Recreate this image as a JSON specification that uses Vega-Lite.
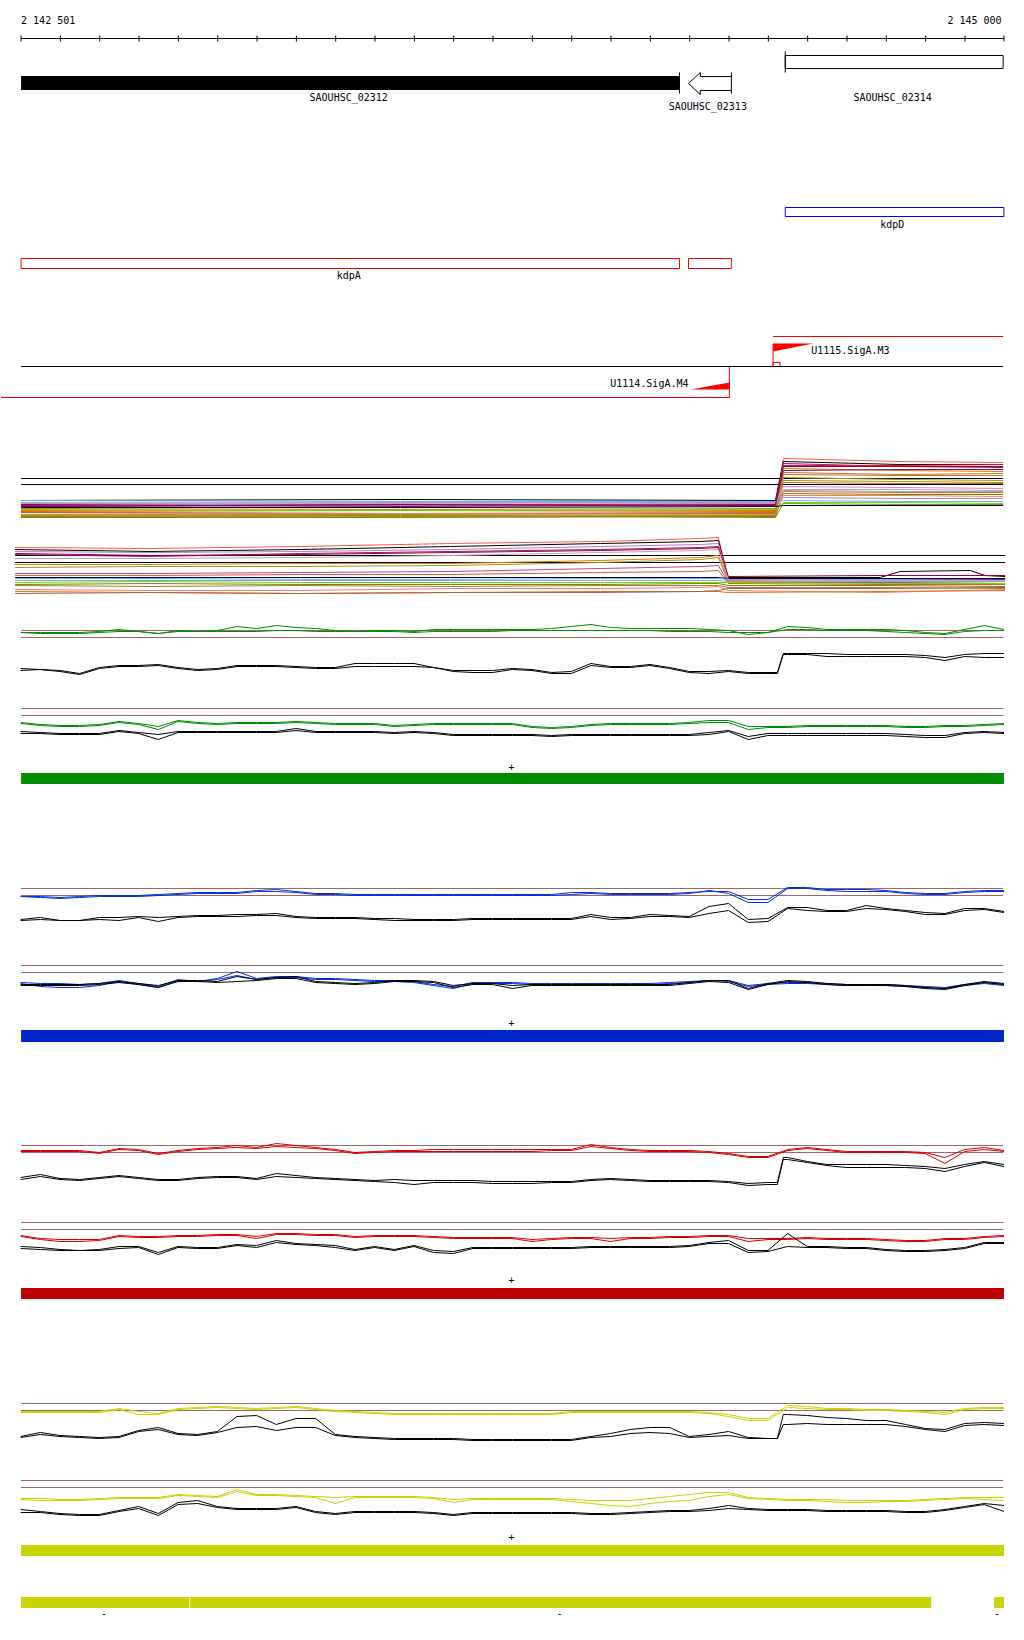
{
"$schema": "https://vega.github.io/schema/vega-lite/v6.json",
"width": 1024, "height": 1640,
"autosize": {"type": "fit", "contains": "padding"},
"padding": 0,
"background": "white",
"config": {"view": {"stroke": null}},
"datasets": {
"bars": [
{"id":"gene","x":2142501,"x2":2144175,"y":75.5,"y2":89.5},
{"id":"green","x":2142501,"x2":2145000,"y":772.5,"y2":783.5},
{"id":"blue","x":2142501,"x2":2145000,"y":1029.5,"y2":1041.5},
{"id":"red","x":2142501,"x2":2145000,"y":1287.5,"y2":1298.5},
{"id":"yellow","x":2142501,"x2":2145000,"y":1544.5,"y2":1555.5},
{"id":"yellow","x":2142501,"x2":2142929,"y":1596.5,"y2":1607.5},
{"id":"yellow","x":2142931,"x2":2144815,"y":1596.5,"y2":1607.5},
{"id":"yellow","x":2144975,"x2":2145000,"y":1596.5,"y2":1607.5}
],
"boxes": [
{"id":"black","x":2144444,"x2":2144998,"y":55,"y2":68},
{"id":"blue","x":2144444,"x2":2145000,"y":207,"y2":216},
{"id":"red","x":2142501,"x2":2144175,"y":258,"y2":268},
{"id":"red","x":2144198,"x2":2144307,"y":258,"y2":268},
{"id":"red","x":2144413,"x2":2144431,"y":362,"y2":366}
],
"tri": [
{"id":"t1","x":2144413,"y":343,"y2":351},
{"id":"t1","x":2144515,"y":343,"y2":343},
{"id":"t2","x":2144203,"y":389,"y2":389},
{"id":"t2","x":2144302,"y":382,"y2":389}
],
"arrow": [
{"o":1,"x":2144307,"y":76},{"o":2,"x":2144228,"y":76},{"o":3,"x":2144228,"y":72},{"o":4,"x":2144198,"y":83},{"o":5,"x":2144228,"y":94},{"o":6,"x":2144228,"y":90},{"o":7,"x":2144307,"y":90}
],
"rules": [
{"k":"black","x":2142501,"x2":2145000,"y":38,"y2":38},
{"k":"black","x":2142501,"x2":2142501,"y":35,"y2":41},
{"k":"black","x":2142601,"x2":2142601,"y":35,"y2":41},
{"k":"black","x":2142701,"x2":2142701,"y":35,"y2":41},
{"k":"black","x":2142801,"x2":2142801,"y":35,"y2":41},
{"k":"black","x":2142901,"x2":2142901,"y":35,"y2":41},
{"k":"black","x":2143001,"x2":2143001,"y":35,"y2":41},
{"k":"black","x":2143101,"x2":2143101,"y":35,"y2":41},
{"k":"black","x":2143201,"x2":2143201,"y":35,"y2":41},
{"k":"black","x":2143301,"x2":2143301,"y":35,"y2":41},
{"k":"black","x":2143401,"x2":2143401,"y":35,"y2":41},
{"k":"black","x":2143501,"x2":2143501,"y":35,"y2":41},
{"k":"black","x":2143601,"x2":2143601,"y":35,"y2":41},
{"k":"black","x":2143701,"x2":2143701,"y":35,"y2":41},
{"k":"black","x":2143801,"x2":2143801,"y":35,"y2":41},
{"k":"black","x":2143901,"x2":2143901,"y":35,"y2":41},
{"k":"black","x":2144001,"x2":2144001,"y":35,"y2":41},
{"k":"black","x":2144101,"x2":2144101,"y":35,"y2":41},
{"k":"black","x":2144201,"x2":2144201,"y":35,"y2":41},
{"k":"black","x":2144301,"x2":2144301,"y":35,"y2":41},
{"k":"black","x":2144401,"x2":2144401,"y":35,"y2":41},
{"k":"black","x":2144501,"x2":2144501,"y":35,"y2":41},
{"k":"black","x":2144601,"x2":2144601,"y":35,"y2":41},
{"k":"black","x":2144701,"x2":2144701,"y":35,"y2":41},
{"k":"black","x":2144801,"x2":2144801,"y":35,"y2":41},
{"k":"black","x":2144901,"x2":2144901,"y":35,"y2":41},
{"k":"black","x":2145000,"x2":2145000,"y":35,"y2":41},
{"k":"black","x":2144175,"x2":2144175,"y":72,"y2":93},
{"k":"black","x":2144307,"x2":2144307,"y":72,"y2":93},
{"k":"black","x":2144444,"x2":2144444,"y":51,"y2":72},
{"k":"red","x":2144413,"x2":2144998,"y":336,"y2":336},
{"k":"red","x":2144413,"x2":2144413,"y":343,"y2":366},
{"k":"black","x":2142501,"x2":2144998,"y":366,"y2":366},
{"k":"red","x":2144302,"x2":2144302,"y":366,"y2":397},
{"k":"red","x":2142450,"x2":2144302,"y":397,"y2":397},
{"k":"black","x":2142501,"x2":2144998,"y":478,"y2":478},
{"k":"black","x":2142501,"x2":2144998,"y":484,"y2":484},
{"k":"black","x":2142486,"x2":2145003,"y":555,"y2":555},
{"k":"black","x":2142486,"x2":2145003,"y":562,"y2":562},
{"k":"brown","x":2142501,"x2":2144998,"y":630,"y2":630},
{"k":"brown","x":2142501,"x2":2144998,"y":637,"y2":637},
{"k":"brown","x":2142501,"x2":2144998,"y":708,"y2":708},
{"k":"brown","x":2142501,"x2":2144998,"y":715,"y2":715},
{"k":"brown","x":2142501,"x2":2144998,"y":888,"y2":888},
{"k":"brown","x":2142501,"x2":2144998,"y":895,"y2":895},
{"k":"brown","x":2142501,"x2":2144998,"y":965,"y2":965},
{"k":"brown","x":2142501,"x2":2144998,"y":972,"y2":972},
{"k":"brown","x":2142501,"x2":2144998,"y":1145,"y2":1145},
{"k":"brown","x":2142501,"x2":2144998,"y":1152,"y2":1152},
{"k":"brown","x":2142501,"x2":2144998,"y":1222,"y2":1222},
{"k":"brown","x":2142501,"x2":2144998,"y":1229,"y2":1229},
{"k":"brown","x":2142501,"x2":2144998,"y":1403,"y2":1403},
{"k":"brown","x":2142501,"x2":2144998,"y":1410,"y2":1410},
{"k":"brown","x":2142501,"x2":2144998,"y":1480,"y2":1480},
{"k":"brown","x":2142501,"x2":2144998,"y":1487,"y2":1487}
],
"sig": [
{"x":2142500,"g1":632,"g2":632,"g3":668,"g4":670,"g5":722,"g6":723,"g7":731,"g8":733,"b1":896,"b2":896,"b3":919,"b4":920,"b5":982,"b6":983,"b7":984,"b8":985,"r1":1150,"r2":1151,"r3":1177,"r4":1179,"r5":1235,"r6":1236,"r7":1246,"r8":1248,"y1":1411,"y2":1412,"y3":1436,"y4":1437,"y5":1498,"y6":1499,"y7":1509,"y8":1512},
{"x":2142550,"g1":632,"g2":633,"g3":669,"g4":669,"g5":724,"g6":725,"g7":732,"g8":733,"b1":896,"b2":897,"b3":917,"b4":919,"b5":983,"b6":986,"b7":984,"b8":985,"r1":1150,"r2":1151,"r3":1174,"r4":1176,"r5":1238,"r6":1239,"r7":1247,"r8":1249,"y1":1411,"y2":1412,"y3":1432,"y4":1434,"y5":1498,"y6":1500,"y7":1511,"y8":1512},
{"x":2142600,"g1":632,"g2":633,"g3":670,"g4":671,"g5":725,"g6":726,"g7":733,"g8":734,"b1":897,"b2":898,"b3":920,"b4":920,"b5":983,"b6":987,"b7":984,"b8":985,"r1":1150,"r2":1151,"r3":1178,"r4":1179,"r5":1239,"r6":1241,"r7":1249,"r8":1250,"y1":1411,"y2":1412,"y3":1435,"y4":1436,"y5":1499,"y6":1500,"y7":1513,"y8":1514},
{"x":2142650,"g1":632,"g2":633,"g3":673,"g4":674,"g5":725,"g6":726,"g7":733,"g8":734,"b1":896,"b2":897,"b3":920,"b4":920,"b5":984,"b6":987,"b7":984,"b8":985,"r1":1150,"r2":1151,"r3":1179,"r4":1180,"r5":1239,"r6":1241,"r7":1250,"r8":1250,"y1":1411,"y2":1412,"y3":1436,"y4":1437,"y5":1499,"y6":1500,"y7":1514,"y8":1515},
{"x":2142700,"g1":631,"g2":632,"g3":667,"g4":668,"g5":724,"g6":725,"g7":733,"g8":734,"b1":895,"b2":896,"b3":917,"b4":919,"b5":983,"b6":985,"b7":983,"b8":984,"r1":1152,"r2":1153,"r3":1177,"r4":1178,"r5":1239,"r6":1240,"r7":1249,"r8":1250,"y1":1411,"y2":1412,"y3":1437,"y4":1438,"y5":1498,"y6":1499,"y7":1514,"y8":1515},
{"x":2142750,"g1":629,"g2":631,"g3":665,"g4":666,"g5":721,"g6":722,"g7":730,"g8":731,"b1":895,"b2":896,"b3":917,"b4":920,"b5":980,"b6":981,"b7":981,"b8":982,"r1":1148,"r2":1149,"r3":1175,"r4":1176,"r5":1235,"r6":1236,"r7":1246,"r8":1248,"y1":1408,"y2":1409,"y3":1436,"y4":1437,"y5":1497,"y6":1498,"y7":1510,"y8":1511},
{"x":2142800,"g1":631,"g2":631,"g3":665,"g4":666,"g5":723,"g6":724,"g7":732,"g8":733,"b1":895,"b2":896,"b3":916,"b4":917,"b5":983,"b6":984,"b7":983,"b8":984,"r1":1149,"r2":1150,"r3":1177,"r4":1178,"r5":1236,"r6":1237,"r7":1246,"r8":1247,"y1":1411,"y2":1414,"y3":1430,"y4":1431,"y5":1497,"y6":1498,"y7":1506,"y8":1508},
{"x":2142850,"g1":633,"g2":633,"g3":664,"g4":665,"g5":726,"g6":729,"g7":734,"g8":739,"b1":894,"b2":895,"b3":917,"b4":921,"b5":986,"b6":987,"b7":985,"b8":987,"r1":1153,"r2":1154,"r3":1179,"r4":1180,"r5":1236,"r6":1237,"r7":1252,"r8":1254,"y1":1413,"y2":1414,"y3":1427,"y4":1429,"y5":1497,"y6":1498,"y7":1513,"y8":1515},
{"x":2142900,"g1":630,"g2":631,"g3":667,"g4":668,"g5":720,"g6":721,"g7":731,"g8":732,"b1":893,"b2":894,"b3":916,"b4":917,"b5":979,"b6":980,"b7":980,"b8":981,"r1":1150,"r2":1151,"r3":1179,"r4":1180,"r5":1235,"r6":1236,"r7":1246,"r8":1247,"y1":1408,"y2":1409,"y3":1433,"y4":1434,"y5":1494,"y6":1495,"y7":1502,"y8":1504},
{"x":2142950,"g1":631,"g2":631,"g3":669,"g4":670,"g5":722,"g6":723,"g7":731,"g8":732,"b1":892,"b2":893,"b3":915,"b4":916,"b5":981,"b6":981,"b7":980,"b8":981,"r1":1148,"r2":1149,"r3":1177,"r4":1178,"r5":1235,"r6":1236,"r7":1247,"r8":1248,"y1":1407,"y2":1408,"y3":1434,"y4":1435,"y5":1495,"y6":1496,"y7":1500,"y8":1503},
{"x":2143000,"g1":630,"g2":631,"g3":668,"g4":669,"g5":723,"g6":724,"g7":731,"g8":732,"b1":892,"b2":893,"b3":915,"b4":916,"b5":978,"b6":979,"b7":981,"b8":982,"r1":1147,"r2":1148,"r3":1176,"r4":1177,"r5":1234,"r6":1235,"r7":1247,"r8":1248,"y1":1406,"y2":1407,"y3":1431,"y4":1432,"y5":1496,"y6":1497,"y7":1506,"y8":1507},
{"x":2143050,"g1":626,"g2":631,"g3":665,"g4":666,"g5":722,"g6":723,"g7":731,"g8":732,"b1":892,"b2":893,"b3":914,"b4":916,"b5":971,"b6":975,"b7":976,"b8":981,"r1":1145,"r2":1147,"r3":1176,"r4":1177,"r5":1234,"r6":1235,"r7":1244,"r8":1245,"y1":1407,"y2":1408,"y3":1416,"y4":1427,"y5":1489,"y6":1491,"y7":1508,"y8":1509},
{"x":2143100,"g1":628,"g2":631,"g3":665,"g4":666,"g5":722,"g6":723,"g7":731,"g8":732,"b1":890,"b2":891,"b3":914,"b4":915,"b5":978,"b6":979,"b7":979,"b8":980,"r1":1147,"r2":1148,"r3":1178,"r4":1179,"r5":1236,"r6":1238,"r7":1245,"r8":1247,"y1":1408,"y2":1409,"y3":1415,"y4":1426,"y5":1494,"y6":1495,"y7":1508,"y8":1509},
{"x":2143150,"g1":625,"g2":630,"g3":665,"g4":666,"g5":722,"g6":723,"g7":731,"g8":732,"b1":889,"b2":891,"b3":913,"b4":915,"b5":976,"b6":977,"b7":977,"b8":978,"r1":1143,"r2":1146,"r3":1173,"r4":1176,"r5":1233,"r6":1234,"r7":1240,"r8":1242,"y1":1407,"y2":1408,"y3":1424,"y4":1430,"y5":1494,"y6":1495,"y7":1508,"y8":1509},
{"x":2143200,"g1":627,"g2":630,"g3":666,"g4":667,"g5":721,"g6":722,"g7":728,"g8":730,"b1":891,"b2":892,"b3":916,"b4":917,"b5":976,"b6":977,"b7":976,"b8":978,"r1":1145,"r2":1147,"r3":1175,"r4":1177,"r5":1233,"r6":1234,"r7":1243,"r8":1244,"y1":1406,"y2":1407,"y3":1418,"y4":1427,"y5":1495,"y6":1496,"y7":1506,"y8":1507},
{"x":2143250,"g1":628,"g2":631,"g3":667,"g4":668,"g5":722,"g6":723,"g7":731,"g8":732,"b1":893,"b2":894,"b3":917,"b4":918,"b5":978,"b6":979,"b7":981,"b8":982,"r1":1147,"r2":1148,"r3":1177,"r4":1178,"r5":1234,"r6":1235,"r7":1244,"r8":1245,"y1":1408,"y2":1409,"y3":1418,"y4":1427,"y5":1496,"y6":1497,"y7":1511,"y8":1512},
{"x":2143300,"g1":630,"g2":631,"g3":667,"g4":668,"g5":723,"g6":724,"g7":731,"g8":732,"b1":893,"b2":894,"b3":917,"b4":918,"b5":978,"b6":979,"b7":982,"b8":983,"r1":1149,"r2":1150,"r3":1178,"r4":1179,"r5":1234,"r6":1235,"r7":1245,"r8":1247,"y1":1410,"y2":1411,"y3":1434,"y4":1435,"y5":1497,"y6":1503,"y7":1513,"y8":1514},
{"x":2143350,"g1":631,"g2":631,"g3":663,"g4":666,"g5":723,"g6":724,"g7":731,"g8":732,"b1":894,"b2":895,"b3":917,"b4":918,"b5":979,"b6":980,"b7":983,"b8":984,"r1":1152,"r2":1153,"r3":1179,"r4":1180,"r5":1236,"r6":1237,"r7":1249,"r8":1250,"y1":1411,"y2":1412,"y3":1436,"y4":1437,"y5":1496,"y6":1497,"y7":1511,"y8":1512},
{"x":2143400,"g1":630,"g2":631,"g3":663,"g4":666,"g5":723,"g6":724,"g7":731,"g8":732,"b1":894,"b2":895,"b3":918,"b4":919,"b5":980,"b6":981,"b7":982,"b8":983,"r1":1151,"r2":1152,"r3":1180,"r4":1181,"r5":1235,"r6":1236,"r7":1246,"r8":1247,"y1":1412,"y2":1413,"y3":1437,"y4":1438,"y5":1496,"y6":1497,"y7":1511,"y8":1512},
{"x":2143450,"g1":630,"g2":631,"g3":663,"g4":666,"g5":725,"g6":726,"g7":732,"g8":733,"b1":894,"b2":895,"b3":918,"b4":920,"b5":980,"b6":981,"b7":980,"b8":981,"r1":1150,"r2":1151,"r3":1179,"r4":1182,"r5":1235,"r6":1236,"r7":1249,"r8":1250,"y1":1413,"y2":1414,"y3":1438,"y4":1439,"y5":1496,"y6":1497,"y7":1511,"y8":1512},
{"x":2143500,"g1":631,"g2":632,"g3":663,"g4":666,"g5":724,"g6":725,"g7":731,"g8":732,"b1":894,"b2":895,"b3":919,"b4":920,"b5":981,"b6":982,"b7":980,"b8":981,"r1":1150,"r2":1151,"r3":1180,"r4":1184,"r5":1235,"r6":1236,"r7":1245,"r8":1246,"y1":1413,"y2":1414,"y3":1438,"y4":1439,"y5":1496,"y6":1497,"y7":1511,"y8":1512},
{"x":2143550,"g1":629,"g2":631,"g3":667,"g4":667,"g5":723,"g6":724,"g7":732,"g8":733,"b1":894,"b2":895,"b3":919,"b4":920,"b5":984,"b6":985,"b7":981,"b8":982,"r1":1149,"r2":1151,"r3":1180,"r4":1182,"r5":1236,"r6":1237,"r7":1250,"r8":1252,"y1":1413,"y2":1414,"y3":1438,"y4":1439,"y5":1497,"y6":1498,"y7":1512,"y8":1513},
{"x":2143600,"g1":629,"g2":631,"g3":670,"g4":671,"g5":723,"g6":724,"g7":734,"g8":735,"b1":894,"b2":895,"b3":919,"b4":920,"b5":986,"b6":988,"b7":985,"b8":987,"r1":1149,"r2":1151,"r3":1180,"r4":1182,"r5":1237,"r6":1238,"r7":1251,"r8":1253,"y1":1413,"y2":1414,"y3":1438,"y4":1439,"y5":1499,"y6":1502,"y7":1514,"y8":1515},
{"x":2143650,"g1":629,"g2":631,"g3":670,"g4":672,"g5":723,"g6":724,"g7":734,"g8":735,"b1":894,"b2":895,"b3":918,"b4":919,"b5":982,"b6":983,"b7":983,"b8":984,"r1":1149,"r2":1151,"r3":1180,"r4":1182,"r5":1237,"r6":1238,"r7":1247,"r8":1248,"y1":1413,"y2":1414,"y3":1439,"y4":1440,"y5":1498,"y6":1499,"y7":1512,"y8":1513},
{"x":2143700,"g1":629,"g2":631,"g3":670,"g4":672,"g5":723,"g6":724,"g7":734,"g8":735,"b1":894,"b2":895,"b3":918,"b4":919,"b5":982,"b6":983,"b7":983,"b8":984,"r1":1149,"r2":1151,"r3":1181,"r4":1183,"r5":1237,"r6":1238,"r7":1247,"r8":1248,"y1":1413,"y2":1414,"y3":1439,"y4":1440,"y5":1498,"y6":1499,"y7":1512,"y8":1513},
{"x":2143750,"g1":629,"g2":630,"g3":668,"g4":669,"g5":723,"g6":724,"g7":734,"g8":735,"b1":894,"b2":895,"b3":918,"b4":919,"b5":982,"b6":983,"b7":985,"b8":988,"r1":1149,"r2":1151,"r3":1181,"r4":1183,"r5":1237,"r6":1238,"r7":1247,"r8":1248,"y1":1413,"y2":1414,"y3":1439,"y4":1440,"y5":1498,"y6":1499,"y7":1512,"y8":1513},
{"x":2143800,"g1":629,"g2":630,"g3":669,"g4":670,"g5":726,"g6":727,"g7":734,"g8":735,"b1":894,"b2":895,"b3":918,"b4":919,"b5":983,"b6":984,"b7":984,"b8":985,"r1":1149,"r2":1151,"r3":1181,"r4":1183,"r5":1239,"r6":1241,"r7":1247,"r8":1248,"y1":1413,"y2":1414,"y3":1439,"y4":1440,"y5":1498,"y6":1499,"y7":1512,"y8":1513},
{"x":2143850,"g1":628,"g2":630,"g3":672,"g4":673,"g5":727,"g6":728,"g7":735,"g8":736,"b1":894,"b2":895,"b3":918,"b4":919,"b5":983,"b6":984,"b7":984,"b8":985,"r1":1149,"r2":1150,"r3":1181,"r4":1182,"r5":1238,"r6":1239,"r7":1247,"r8":1248,"y1":1413,"y2":1414,"y3":1439,"y4":1440,"y5":1498,"y6":1499,"y7":1512,"y8":1513},
{"x":2143900,"g1":626,"g2":630,"g3":671,"g4":673,"g5":726,"g6":727,"g7":734,"g8":735,"b1":892,"b2":894,"b3":918,"b4":919,"b5":983,"b6":984,"b7":984,"b8":985,"r1":1149,"r2":1150,"r3":1181,"r4":1182,"r5":1237,"r6":1238,"r7":1247,"r8":1248,"y1":1411,"y2":1412,"y3":1439,"y4":1440,"y5":1499,"y6":1501,"y7":1512,"y8":1513},
{"x":2143950,"g1":624,"g2":630,"g3":663,"g4":665,"g5":724,"g6":725,"g7":734,"g8":735,"b1":892,"b2":893,"b3":914,"b4":916,"b5":983,"b6":984,"b7":984,"b8":985,"r1":1144,"r2":1146,"r3":1179,"r4":1180,"r5":1237,"r6":1238,"r7":1246,"r8":1247,"y1":1411,"y2":1412,"y3":1436,"y4":1437,"y5":1500,"y6":1503,"y7":1513,"y8":1514},
{"x":2144000,"g1":627,"g2":630,"g3":666,"g4":667,"g5":723,"g6":724,"g7":734,"g8":735,"b1":893,"b2":894,"b3":917,"b4":919,"b5":983,"b6":984,"b7":984,"b8":985,"r1":1147,"r2":1148,"r3":1178,"r4":1179,"r5":1238,"r6":1241,"r7":1246,"r8":1247,"y1":1411,"y2":1412,"y3":1433,"y4":1436,"y5":1500,"y6":1505,"y7":1513,"y8":1514},
{"x":2144050,"g1":628,"g2":630,"g3":666,"g4":667,"g5":723,"g6":724,"g7":734,"g8":735,"b1":893,"b2":894,"b3":917,"b4":918,"b5":983,"b6":984,"b7":984,"b8":985,"r1":1149,"r2":1150,"r3":1179,"r4":1180,"r5":1237,"r6":1238,"r7":1246,"r8":1247,"y1":1411,"y2":1412,"y3":1429,"y4":1433,"y5":1500,"y6":1506,"y7":1512,"y8":1513},
{"x":2144100,"g1":628,"g2":630,"g3":664,"g4":665,"g5":723,"g6":724,"g7":734,"g8":735,"b1":893,"b2":894,"b3":914,"b4":916,"b5":983,"b6":984,"b7":984,"b8":985,"r1":1150,"r2":1151,"r3":1180,"r4":1181,"r5":1237,"r6":1238,"r7":1246,"r8":1247,"y1":1411,"y2":1412,"y3":1427,"y4":1432,"y5":1498,"y6":1503,"y7":1511,"y8":1512},
{"x":2144150,"g1":628,"g2":631,"g3":667,"g4":668,"g5":723,"g6":724,"g7":734,"g8":735,"b1":893,"b2":894,"b3":915,"b4":916,"b5":982,"b6":983,"b7":984,"b8":985,"r1":1150,"r2":1151,"r3":1180,"r4":1181,"r5":1236,"r6":1237,"r7":1246,"r8":1247,"y1":1411,"y2":1412,"y3":1427,"y4":1433,"y5":1496,"y6":1501,"y7":1510,"y8":1511},
{"x":2144200,"g1":628,"g2":631,"g3":671,"g4":672,"g5":722,"g6":723,"g7":734,"g8":735,"b1":892,"b2":893,"b3":916,"b4":917,"b5":981,"b6":982,"b7":982,"b8":983,"r1":1150,"r2":1151,"r3":1180,"r4":1181,"r5":1236,"r6":1237,"r7":1245,"r8":1246,"y1":1411,"y2":1412,"y3":1436,"y4":1437,"y5":1494,"y6":1500,"y7":1510,"y8":1511},
{"x":2144250,"g1":629,"g2":631,"g3":671,"g4":673,"g5":720,"g6":722,"g7":732,"g8":734,"b1":891,"b2":890,"b3":906,"b4":913,"b5":980,"b6":980,"b7":980,"b8":981,"r1":1151,"r2":1152,"r3":1180,"r4":1181,"r5":1235,"r6":1236,"r7":1242,"r8":1243,"y1":1412,"y2":1413,"y3":1434,"y4":1436,"y5":1492,"y6":1496,"y7":1508,"y8":1510},
{"x":2144300,"g1":630,"g2":632,"g3":670,"g4":671,"g5":720,"g6":722,"g7":730,"g8":731,"b1":891,"b2":893,"b3":903,"b4":910,"b5":980,"b6":981,"b7":980,"b8":982,"r1":1153,"r2":1154,"r3":1181,"r4":1182,"r5":1235,"r6":1236,"r7":1240,"r8":1243,"y1":1414,"y2":1416,"y3":1431,"y4":1435,"y5":1492,"y6":1494,"y7":1505,"y8":1508},
{"x":2144350,"g1":634,"g2":632,"g3":672,"g4":673,"g5":726,"g6":729,"g7":736,"g8":739,"b1":899,"b2":902,"b3":919,"b4":922,"b5":985,"b6":986,"b7":988,"b8":989,"r1":1156,"r2":1157,"r3":1183,"r4":1185,"r5":1238,"r6":1241,"r7":1250,"r8":1252,"y1":1418,"y2":1420,"y3":1437,"y4":1438,"y5":1497,"y6":1498,"y7":1508,"y8":1509},
{"x":2144400,"g1":632,"g2":632,"g3":672,"g4":673,"g5":726,"g6":727,"g7":733,"g8":735,"b1":899,"b2":902,"b3":918,"b4":921,"b5":983,"b6":984,"b7":983,"b8":984,"r1":1156,"r2":1157,"r3":1182,"r4":1184,"r5":1238,"r6":1239,"r7":1250,"r8":1251,"y1":1418,"y2":1420,"y3":1438,"y4":1438,"y5":1498,"y6":1499,"y7":1509,"y8":1510},
{"x":2144424,"g3":672,"g4":673,"r3":1182,"r4":1184,"y3":1438,"y4":1438},
{"x":2144439,"g3":653,"g4":654,"r3":1157,"r4":1159,"y3":1414,"y4":1424},
{"x":2144450,"g1":626,"g2":629,"g3":653,"g4":654,"g5":726,"g6":727,"g7":733,"g8":735,"b1":887,"b2":888,"b3":907,"b4":908,"b5":982,"b6":983,"b7":980,"b8":981,"r1":1149,"r2":1150,"r3":1157,"r4":1159,"r5":1238,"r6":1239,"r7":1233,"r8":1246,"y1":1405,"y2":1407,"y3":1414,"y4":1424,"y5":1499,"y6":1500,"y7":1509,"y8":1510},
{"x":2144500,"g1":627,"g2":629,"g3":653,"g4":654,"g5":725,"g6":726,"g7":733,"g8":735,"b1":887,"b2":888,"b3":907,"b4":910,"b5":982,"b6":983,"b7":981,"b8":982,"r1":1147,"r2":1148,"r3":1161,"r4":1162,"r5":1237,"r6":1238,"r7":1246,"r8":1247,"y1":1406,"y2":1408,"y3":1415,"y4":1423,"y5":1499,"y6":1500,"y7":1509,"y8":1510},
{"x":2144550,"g1":629,"g2":630,"g3":653,"g4":656,"g5":725,"g6":726,"g7":733,"g8":735,"b1":889,"b2":890,"b3":910,"b4":911,"b5":983,"b6":984,"b7":983,"b8":984,"r1":1149,"r2":1150,"r3":1164,"r4":1165,"r5":1238,"r6":1239,"r7":1246,"r8":1247,"y1":1408,"y2":1409,"y3":1417,"y4":1424,"y5":1499,"y6":1501,"y7":1510,"y8":1511},
{"x":2144600,"g1":629,"g2":630,"g3":654,"g4":656,"g5":725,"g6":726,"g7":733,"g8":735,"b1":889,"b2":891,"b3":910,"b4":911,"b5":984,"b6":985,"b7":984,"b8":985,"r1":1151,"r2":1152,"r3":1164,"r4":1167,"r5":1238,"r6":1239,"r7":1247,"r8":1248,"y1":1408,"y2":1409,"y3":1418,"y4":1424,"y5":1500,"y6":1502,"y7":1510,"y8":1511},
{"x":2144650,"g1":629,"g2":630,"g3":654,"g4":656,"g5":725,"g6":726,"g7":733,"g8":735,"b1":889,"b2":891,"b3":905,"b4":908,"b5":984,"b6":985,"b7":984,"b8":985,"r1":1151,"r2":1152,"r3":1164,"r4":1167,"r5":1238,"r6":1239,"r7":1247,"r8":1248,"y1":1409,"y2":1410,"y3":1420,"y4":1424,"y5":1500,"y6":1502,"y7":1510,"y8":1511},
{"x":2144700,"g1":629,"g2":631,"g3":654,"g4":656,"g5":725,"g6":726,"g7":733,"g8":735,"b1":890,"b2":891,"b3":908,"b4":909,"b5":984,"b6":985,"b7":984,"b8":985,"r1":1151,"r2":1152,"r3":1164,"r4":1167,"r5":1239,"r6":1240,"r7":1249,"r8":1250,"y1":1409,"y2":1410,"y3":1420,"y4":1424,"y5":1500,"y6":1501,"y7":1510,"y8":1511},
{"x":2144750,"g1":630,"g2":632,"g3":654,"g4":656,"g5":726,"g6":727,"g7":734,"g8":736,"b1":892,"b2":893,"b3":910,"b4":911,"b5":985,"b6":986,"b7":985,"b8":986,"r1":1151,"r2":1152,"r3":1165,"r4":1167,"r5":1240,"r6":1241,"r7":1250,"r8":1251,"y1":1410,"y2":1411,"y3":1424,"y4":1426,"y5":1500,"y6":1501,"y7":1511,"y8":1512},
{"x":2144800,"g1":632,"g2":633,"g3":655,"g4":657,"g5":726,"g6":727,"g7":735,"g8":737,"b1":893,"b2":894,"b3":912,"b4":914,"b5":986,"b6":987,"b7":987,"b8":988,"r1":1152,"r2":1153,"r3":1166,"r4":1168,"r5":1240,"r6":1241,"r7":1250,"r8":1251,"y1":1411,"y2":1412,"y3":1428,"y4":1429,"y5":1499,"y6":1500,"y7":1511,"y8":1512},
{"x":2144850,"g1":633,"g2":634,"g3":657,"g4":660,"g5":725,"g6":726,"g7":735,"g8":737,"b1":893,"b2":894,"b3":913,"b4":914,"b5":987,"b6":988,"b7":988,"b8":989,"r1":1157,"r2":1163,"r3":1168,"r4":1171,"r5":1238,"r6":1239,"r7":1249,"r8":1250,"y1":1412,"y2":1414,"y3":1429,"y4":1431,"y5":1498,"y6":1499,"y7":1509,"y8":1510},
{"x":2144900,"g1":629,"g2":631,"g3":654,"g4":656,"g5":725,"g6":726,"g7":732,"g8":733,"b1":891,"b2":892,"b3":908,"b4":910,"b5":984,"b6":985,"b7":984,"b8":985,"r1":1149,"r2":1151,"r3":1164,"r4":1166,"r5":1238,"r6":1239,"r7":1247,"r8":1248,"y1":1408,"y2":1409,"y3":1423,"y4":1425,"y5":1497,"y6":1498,"y7":1506,"y8":1507},
{"x":2144950,"g1":625,"g2":630,"g3":653,"g4":657,"g5":724,"g6":725,"g7":731,"g8":732,"b1":890,"b2":891,"b3":908,"b4":909,"b5":982,"b6":983,"b7":981,"b8":982,"r1":1147,"r2":1149,"r3":1161,"r4":1162,"r5":1236,"r6":1237,"r7":1242,"r8":1243,"y1":1407,"y2":1408,"y3":1422,"y4":1424,"y5":1497,"y6":1499,"y7":1503,"y8":1504},
{"x":2145000,"g1":629,"g2":630,"g3":653,"g4":657,"g5":723,"g6":724,"g7":732,"g8":733,"b1":890,"b2":891,"b3":911,"b4":912,"b5":984,"b6":985,"b7":983,"b8":984,"r1":1150,"r2":1151,"r3":1164,"r4":1166,"r5":1235,"r6":1236,"r7":1242,"r8":1243,"y1":1407,"y2":1408,"y3":1423,"y4":1425,"y5":1497,"y6":1500,"y7":1505,"y8":1511}
],
"multi": [
{"s":"A1","x":2142501,"y":516},{"s":"A1","x":2143466,"y":515},{"s":"A1","x":2144419,"y":516},{"s":"A1","x":2144439,"y":458},{"s":"A1","x":2144736,"y":461},{"s":"A1","x":2144998,"y":462},
{"s":"A2","x":2142501,"y":500},{"s":"A2","x":2143466,"y":499},{"s":"A2","x":2144419,"y":500},{"s":"A2","x":2144439,"y":461},{"s":"A2","x":2144736,"y":464},{"s":"A2","x":2144998,"y":464},
{"s":"A3","x":2142501,"y":505},{"s":"A3","x":2143466,"y":504},{"s":"A3","x":2144419,"y":505},{"s":"A3","x":2144439,"y":463},{"s":"A3","x":2144736,"y":466},{"s":"A3","x":2144998,"y":467},
{"s":"A4","x":2142501,"y":506},{"s":"A4","x":2143466,"y":505},{"s":"A4","x":2144419,"y":503},{"s":"A4","x":2144439,"y":465},{"s":"A4","x":2144736,"y":465},{"s":"A4","x":2144998,"y":464},
{"s":"A5","x":2142501,"y":510},{"s":"A5","x":2143466,"y":509},{"s":"A5","x":2144419,"y":510},{"s":"A5","x":2144439,"y":468},{"s":"A5","x":2144736,"y":470},{"s":"A5","x":2144998,"y":471},
{"s":"A6","x":2142501,"y":512},{"s":"A6","x":2143466,"y":513},{"s":"A6","x":2144419,"y":513},{"s":"A6","x":2144439,"y":472},{"s":"A6","x":2144736,"y":474},{"s":"A6","x":2144998,"y":473},
{"s":"A7","x":2142501,"y":511},{"s":"A7","x":2143466,"y":510},{"s":"A7","x":2144419,"y":511},{"s":"A7","x":2144439,"y":474},{"s":"A7","x":2144736,"y":475},{"s":"A7","x":2144998,"y":475},
{"s":"A8","x":2142501,"y":514},{"s":"A8","x":2143466,"y":514},{"s":"A8","x":2144419,"y":515},{"s":"A8","x":2144439,"y":477},{"s":"A8","x":2144736,"y":479},{"s":"A8","x":2144998,"y":480},
{"s":"A9","x":2142501,"y":515},{"s":"A9","x":2143466,"y":516},{"s":"A9","x":2144419,"y":515},{"s":"A9","x":2144439,"y":480},{"s":"A9","x":2144736,"y":481},{"s":"A9","x":2144998,"y":482},
{"s":"A10","x":2142501,"y":512},{"s":"A10","x":2143466,"y":513},{"s":"A10","x":2144419,"y":512},{"s":"A10","x":2144439,"y":482},{"s":"A10","x":2144736,"y":483},{"s":"A10","x":2144998,"y":483},
{"s":"A11","x":2142501,"y":503},{"s":"A11","x":2143466,"y":502},{"s":"A11","x":2144419,"y":503},{"s":"A11","x":2144439,"y":486},{"s":"A11","x":2144736,"y":487},{"s":"A11","x":2144998,"y":488},
{"s":"A12","x":2142501,"y":502},{"s":"A12","x":2143466,"y":503},{"s":"A12","x":2144419,"y":502},{"s":"A12","x":2144439,"y":489},{"s":"A12","x":2144736,"y":489},{"s":"A12","x":2144998,"y":490},
{"s":"A13","x":2142501,"y":508},{"s":"A13","x":2143466,"y":507},{"s":"A13","x":2144419,"y":508},{"s":"A13","x":2144439,"y":491},{"s":"A13","x":2144736,"y":492},{"s":"A13","x":2144998,"y":492},
{"s":"A14","x":2142501,"y":517},{"s":"A14","x":2143466,"y":517},{"s":"A14","x":2144419,"y":516},{"s":"A14","x":2144439,"y":493},{"s":"A14","x":2144736,"y":494},{"s":"A14","x":2144998,"y":494},
{"s":"A15","x":2142501,"y":514},{"s":"A15","x":2143466,"y":513},{"s":"A15","x":2144419,"y":514},{"s":"A15","x":2144439,"y":495},{"s":"A15","x":2144736,"y":495},{"s":"A15","x":2144998,"y":496},
{"s":"A16","x":2142501,"y":504},{"s":"A16","x":2143466,"y":505},{"s":"A16","x":2144419,"y":504},{"s":"A16","x":2144439,"y":497},{"s":"A16","x":2144736,"y":498},{"s":"A16","x":2144998,"y":498},
{"s":"A17","x":2142501,"y":500},{"s":"A17","x":2143466,"y":501},{"s":"A17","x":2144419,"y":501},{"s":"A17","x":2144439,"y":500},{"s":"A17","x":2144736,"y":501},{"s":"A17","x":2144998,"y":501},
{"s":"A18","x":2142501,"y":509},{"s":"A18","x":2143466,"y":510},{"s":"A18","x":2144419,"y":509},{"s":"A18","x":2144439,"y":502},{"s":"A18","x":2144736,"y":502},{"s":"A18","x":2144998,"y":503},
{"s":"A19","x":2142501,"y":516},{"s":"A19","x":2143466,"y":515},{"s":"A19","x":2144419,"y":517},{"s":"A19","x":2144439,"y":503},{"s":"A19","x":2144736,"y":504},{"s":"A19","x":2144998,"y":504},
{"s":"A20","x":2142501,"y":507},{"s":"A20","x":2143466,"y":507},{"s":"A20","x":2144419,"y":506},{"s":"A20","x":2144439,"y":505},{"s":"A20","x":2144736,"y":505},{"s":"A20","x":2144998,"y":505},
{"s":"A21","x":2142501,"y":506},{"s":"A21","x":2143466,"y":504},{"s":"A21","x":2144419,"y":505},{"s":"A21","x":2144439,"y":466},{"s":"A21","x":2144736,"y":466},{"s":"A21","x":2144998,"y":466},
{"s":"A22","x":2142501,"y":503},{"s":"A22","x":2143466,"y":502},{"s":"A22","x":2144419,"y":502},{"s":"A22","x":2144439,"y":490},{"s":"A22","x":2144736,"y":491},{"s":"A22","x":2144998,"y":491},
{"s":"A23","x":2142501,"y":504},{"s":"A23","x":2143466,"y":506},{"s":"A23","x":2144419,"y":504},{"s":"A23","x":2144439,"y":470},{"s":"A23","x":2144736,"y":469},{"s":"A23","x":2144998,"y":469},
{"s":"B1","x":2142486,"y":547},{"s":"B1","x":2142831,"y":548},{"s":"B1","x":2143212,"y":546},{"s":"B1","x":2143593,"y":543},{"s":"B1","x":2143974,"y":541},{"s":"B1","x":2144228,"y":538},{"s":"B1","x":2144274,"y":537},{"s":"B1","x":2144299,"y":578},{"s":"B1","x":2144685,"y":580},{"s":"B1","x":2145003,"y":581},
{"s":"B2","x":2142486,"y":549},{"s":"B2","x":2142831,"y":551},{"s":"B2","x":2143212,"y":549},{"s":"B2","x":2143593,"y":546},{"s":"B2","x":2143974,"y":543},{"s":"B2","x":2144228,"y":541},{"s":"B2","x":2144274,"y":540},{"s":"B2","x":2144299,"y":577},{"s":"B2","x":2144685,"y":577},{"s":"B2","x":2144736,"y":571},{"s":"B2","x":2144914,"y":570},{"s":"B2","x":2144952,"y":575},{"s":"B2","x":2145003,"y":576},
{"s":"B3","x":2142486,"y":554},{"s":"B3","x":2142831,"y":556},{"s":"B3","x":2143212,"y":553},{"s":"B3","x":2143593,"y":551},{"s":"B3","x":2143974,"y":549},{"s":"B3","x":2144228,"y":547},{"s":"B3","x":2144274,"y":546},{"s":"B3","x":2144299,"y":579},{"s":"B3","x":2144685,"y":579},{"s":"B3","x":2145003,"y":579},
{"s":"B4","x":2142486,"y":551},{"s":"B4","x":2142831,"y":552},{"s":"B4","x":2143212,"y":551},{"s":"B4","x":2143593,"y":549},{"s":"B4","x":2143974,"y":546},{"s":"B4","x":2144228,"y":544},{"s":"B4","x":2144274,"y":543},{"s":"B4","x":2144299,"y":578},{"s":"B4","x":2144685,"y":578},{"s":"B4","x":2145003,"y":578},
{"s":"B5","x":2142486,"y":553},{"s":"B5","x":2142831,"y":555},{"s":"B5","x":2143212,"y":554},{"s":"B5","x":2143593,"y":552},{"s":"B5","x":2143974,"y":550},{"s":"B5","x":2144228,"y":548},{"s":"B5","x":2144274,"y":547},{"s":"B5","x":2144299,"y":576},{"s":"B5","x":2144685,"y":575},{"s":"B5","x":2145003,"y":575},
{"s":"B6","x":2142486,"y":567},{"s":"B6","x":2142831,"y":566},{"s":"B6","x":2143212,"y":566},{"s":"B6","x":2143593,"y":565},{"s":"B6","x":2143974,"y":562},{"s":"B6","x":2144228,"y":559},{"s":"B6","x":2144274,"y":557},{"s":"B6","x":2144299,"y":581},{"s":"B6","x":2144685,"y":582},{"s":"B6","x":2145003,"y":583},
{"s":"B7","x":2142486,"y":564},{"s":"B7","x":2142831,"y":564},{"s":"B7","x":2143212,"y":563},{"s":"B7","x":2143593,"y":563},{"s":"B7","x":2143974,"y":560},{"s":"B7","x":2144228,"y":557},{"s":"B7","x":2144274,"y":555},{"s":"B7","x":2144299,"y":580},{"s":"B7","x":2144685,"y":581},{"s":"B7","x":2145003,"y":581},
{"s":"B8","x":2142486,"y":573},{"s":"B8","x":2142831,"y":573},{"s":"B8","x":2143212,"y":572},{"s":"B8","x":2143593,"y":571},{"s":"B8","x":2143974,"y":568},{"s":"B8","x":2144228,"y":566},{"s":"B8","x":2144274,"y":565},{"s":"B8","x":2144299,"y":582},{"s":"B8","x":2144685,"y":582},{"s":"B8","x":2145003,"y":583},
{"s":"B9","x":2142486,"y":575},{"s":"B9","x":2142831,"y":575},{"s":"B9","x":2143212,"y":574},{"s":"B9","x":2143593,"y":574},{"s":"B9","x":2143974,"y":572},{"s":"B9","x":2144228,"y":571},{"s":"B9","x":2144274,"y":570},{"s":"B9","x":2144299,"y":583},{"s":"B9","x":2144685,"y":584},{"s":"B9","x":2145003,"y":584},
{"s":"B10","x":2142486,"y":577},{"s":"B10","x":2142831,"y":577},{"s":"B10","x":2143212,"y":577},{"s":"B10","x":2143593,"y":577},{"s":"B10","x":2143974,"y":577},{"s":"B10","x":2144228,"y":577},{"s":"B10","x":2144274,"y":577},{"s":"B10","x":2144299,"y":578},{"s":"B10","x":2144685,"y":578},{"s":"B10","x":2145003,"y":578},
{"s":"B11","x":2142486,"y":578},{"s":"B11","x":2142831,"y":578},{"s":"B11","x":2143212,"y":579},{"s":"B11","x":2143593,"y":579},{"s":"B11","x":2143974,"y":578},{"s":"B11","x":2144228,"y":578},{"s":"B11","x":2144274,"y":578},{"s":"B11","x":2144299,"y":579},{"s":"B11","x":2144685,"y":579},{"s":"B11","x":2145003,"y":580},
{"s":"B12","x":2142486,"y":582},{"s":"B12","x":2142831,"y":581},{"s":"B12","x":2143212,"y":582},{"s":"B12","x":2143593,"y":582},{"s":"B12","x":2143974,"y":582},{"s":"B12","x":2144228,"y":582},{"s":"B12","x":2144274,"y":582},{"s":"B12","x":2144299,"y":582},{"s":"B12","x":2144685,"y":583},{"s":"B12","x":2145003,"y":583},
{"s":"B13","x":2142486,"y":584},{"s":"B13","x":2142831,"y":583},{"s":"B13","x":2143212,"y":584},{"s":"B13","x":2143593,"y":584},{"s":"B13","x":2143974,"y":584},{"s":"B13","x":2144228,"y":583},{"s":"B13","x":2144274,"y":583},{"s":"B13","x":2144299,"y":585},{"s":"B13","x":2144685,"y":585},{"s":"B13","x":2145003,"y":586},
{"s":"B14","x":2142486,"y":585},{"s":"B14","x":2142831,"y":586},{"s":"B14","x":2143212,"y":585},{"s":"B14","x":2143593,"y":586},{"s":"B14","x":2143974,"y":585},{"s":"B14","x":2144228,"y":585},{"s":"B14","x":2144274,"y":585},{"s":"B14","x":2144299,"y":587},{"s":"B14","x":2144685,"y":587},{"s":"B14","x":2145003,"y":588},
{"s":"B15","x":2142486,"y":589},{"s":"B15","x":2142831,"y":590},{"s":"B15","x":2143212,"y":590},{"s":"B15","x":2143593,"y":588},{"s":"B15","x":2143974,"y":588},{"s":"B15","x":2144228,"y":587},{"s":"B15","x":2144274,"y":586},{"s":"B15","x":2144299,"y":590},{"s":"B15","x":2144685,"y":592},{"s":"B15","x":2145003,"y":589},
{"s":"B16","x":2142486,"y":591},{"s":"B16","x":2142831,"y":592},{"s":"B16","x":2143212,"y":593},{"s":"B16","x":2143593,"y":592},{"s":"B16","x":2143974,"y":591},{"s":"B16","x":2144228,"y":591},{"s":"B16","x":2144274,"y":591},{"s":"B16","x":2144299,"y":592},{"s":"B16","x":2144685,"y":591},{"s":"B16","x":2145003,"y":590},
{"s":"B17","x":2142486,"y":593},{"s":"B17","x":2142831,"y":592},{"s":"B17","x":2143212,"y":593},{"s":"B17","x":2143593,"y":592},{"s":"B17","x":2143974,"y":592},{"s":"B17","x":2144228,"y":591},{"s":"B17","x":2144274,"y":590},{"s":"B17","x":2144299,"y":588},{"s":"B17","x":2144685,"y":588},{"s":"B17","x":2145003,"y":587},
{"s":"B18","x":2142486,"y":580},{"s":"B18","x":2142831,"y":580},{"s":"B18","x":2143212,"y":580},{"s":"B18","x":2143593,"y":580},{"s":"B18","x":2143974,"y":580},{"s":"B18","x":2144228,"y":580},{"s":"B18","x":2144274,"y":580},{"s":"B18","x":2144299,"y":581},{"s":"B18","x":2144685,"y":581},{"s":"B18","x":2145003,"y":581},
{"s":"B19","x":2142486,"y":558},{"s":"B19","x":2142831,"y":558},{"s":"B19","x":2143212,"y":557},{"s":"B19","x":2143593,"y":555},{"s":"B19","x":2143974,"y":552},{"s":"B19","x":2144228,"y":550},{"s":"B19","x":2144274,"y":549},{"s":"B19","x":2144299,"y":579},{"s":"B19","x":2144685,"y":580},{"s":"B19","x":2145003,"y":580}
],
"textC": [
{"t":"SAOUHSC_02312","x":2143334,"y":97.5},
{"t":"SAOUHSC_02313","x":2144247,"y":106.5},
{"t":"SAOUHSC_02314","x":2144717,"y":97.5},
{"t":"kdpD","x":2144716,"y":224},
{"t":"kdpA","x":2143334,"y":275},
{"t":"+","x":2143748,"y":767},
{"t":"+","x":2143748,"y":1023},
{"t":"+","x":2143748,"y":1280},
{"t":"+","x":2143748,"y":1537},
{"t":"-","x":2142712,"y":1613},
{"t":"-","x":2143870,"y":1613},
{"t":"-","x":2144982,"y":1613}
],
"textL": [
{"t":"2 142 501","x":2142501,"y":20.5},
{"t":"U1115.SigA.M3","x":2144510,"y":350}
],
"textR": [
{"t":"2 145 000","x":2144994,"y":20.5},
{"t":"U1114.SigA.M4","x":2144198,"y":383}
]
},
"layer": [
{
"data": {"name": "bars"},
"mark": {"type": "rect"},
"encoding": {
"x": {"field": "x", "type": "quantitative", "scale": {"domain": [2142450, 2145051], "nice": false, "zero": false}, "axis": null},
"x2": {"field": "x2"},
"y": {"field": "y", "type": "quantitative", "scale": {"domain": [-0.5, 1639.5], "reverse": true, "nice": false, "zero": false}, "axis": null},
"y2": {"field": "y2"},
"color": {"field": "id", "type": "nominal", "legend": null, "scale": {"domain": ["gene","green","blue","red","yellow"], "range": ["#000000","#008c00","#0026c8","#c00000","#c8d406"]}}
}
},
{
"data": {"name": "boxes"},
"mark": {"type": "rect", "filled": false, "strokeWidth": 1},
"encoding": {
"x": {"field": "x", "type": "quantitative", "scale": {"domain": [2142450, 2145051], "nice": false, "zero": false}, "axis": null},
"x2": {"field": "x2"},
"y": {"field": "y", "type": "quantitative", "scale": {"domain": [-0.5, 1639.5], "reverse": true, "nice": false, "zero": false}, "axis": null},
"y2": {"field": "y2"},
"color": {"field": "id", "type": "nominal", "legend": null, "scale": {"domain": ["black","blue","red"], "range": ["#000000","#0000ff","#ff0000"]}}
}
},
{
"data": {"name": "tri"},
"mark": {"type": "area", "color": "#ff0000", "opacity": 1},
"encoding": {
"x": {"field": "x", "type": "quantitative", "scale": {"domain": [2142450, 2145051], "nice": false, "zero": false}, "axis": null},
"y": {"field": "y", "type": "quantitative", "scale": {"domain": [-0.5, 1639.5], "reverse": true, "nice": false, "zero": false}, "axis": null},
"y2": {"field": "y2"},
"detail": {"field": "id", "type": "nominal"}
}
},
{
"data": {"name": "rules"},
"mark": {"type": "rule", "strokeWidth": 1},
"encoding": {
"x": {"field": "x", "type": "quantitative", "scale": {"domain": [2142450, 2145051], "nice": false, "zero": false}, "axis": null},
"x2": {"field": "x2"},
"y": {"field": "y", "type": "quantitative", "scale": {"domain": [-0.5, 1639.5], "reverse": true, "nice": false, "zero": false}, "axis": null},
"y2": {"field": "y2"},
"color": {"field": "k", "type": "nominal", "legend": null, "scale": {"domain": ["black","red","brown"], "range": ["#000000","#ff0000","#9e6666"]}}
}
},
{
"data": {"name": "arrow"},
"mark": {"type": "line", "color": "#000000", "strokeWidth": 1},
"encoding": {
"x": {"field": "x", "type": "quantitative", "scale": {"domain": [2142450, 2145051], "nice": false, "zero": false}, "axis": null},
"y": {"field": "y", "type": "quantitative", "scale": {"domain": [-0.5, 1639.5], "reverse": true, "nice": false, "zero": false}, "axis": null},
"order": {"field": "o", "type": "quantitative"}
}
},
{
"data": {"name": "multi"},
"mark": {"type": "line", "strokeWidth": 1},
"encoding": {
"x": {"field": "x", "type": "quantitative", "scale": {"domain": [2142450, 2145051], "nice": false, "zero": false}, "axis": null},
"y": {"field": "y", "type": "quantitative", "scale": {"domain": [-0.5, 1639.5], "reverse": true, "nice": false, "zero": false}, "axis": null},
"color": {"field": "s", "type": "nominal", "legend": null, "scale": {
"domain": ["A1","A2","A3","A4","A5","A6","A7","A8","A9","A10","A11","A12","A13","A14","A15","A16","A17","A18","A19","A20","A21","A22","A23","B1","B2","B3","B4","B5","B6","B7","B8","B9","B10","B11","B12","B13","B14","B15","B16","B17","B18","B19"],
"range": ["#ff5a3c","#000000","#8b1a8b","#dc143c","#e07b00","#b47832","#d26e1e","#a0961e","#9b9b00","#c8642d","#d28cc8","#c8a0b4","#eb6e14","#828200","#f08264","#c878b4","#64b4ff","#50e600","#8c8c14","#000046","#a00032","#a0a0c8","#780a6e","#ff5a3c","#000000","#8b1a8b","#c878b4","#a00032","#a0961e","#e07b00","#c040a0","#c8642d","#000046","#64b4ff","#50e600","#828200","#b47832","#f08264","#eb6e14","#a06450","#a0a0c8","#c8a0b4"]}}
}
},
{
"data": {"name": "sig"},
"transform": [
{"fold": ["g1","g2","g3","g4","g5","g6","g7","g8","b1","b2","b3","b4","b5","b6","b7","b8","r1","r2","r3","r4","r5","r6","r7","r8","y1","y2","y3","y4","y5","y6","y7","y8"], "as": ["s", "v"]},
{"filter": {"field": "v", "valid": true}}
],
"mark": {"type": "line", "strokeWidth": 1},
"encoding": {
"x": {"field": "x", "type": "quantitative", "scale": {"domain": [2142450, 2145051], "nice": false, "zero": false}, "axis": null},
"y": {"field": "v", "type": "quantitative", "scale": {"domain": [-0.5, 1639.5], "reverse": true, "nice": false, "zero": false}, "axis": null},
"color": {"field": "s", "type": "nominal", "legend": null, "scale": {
"domain": ["g1","g2","g3","g4","g5","g6","g7","g8","b1","b2","b3","b4","b5","b6","b7","b8","r1","r2","r3","r4","r5","r6","r7","r8","y1","y2","y3","y4","y5","y6","y7","y8"],
"range": ["#008c00","#008c00","#000000","#000000","#008c00","#008c00","#000000","#000000","#0030e0","#0030e0","#000000","#000000","#0030e0","#0030e0","#000000","#000000","#d80000","#d80000","#000000","#000000","#d80000","#d80000","#000000","#000000","#c8d200","#c8d200","#000000","#000000","#c8d200","#c8d200","#000000","#000000"]}}
}
},
{
"data": {"name": "textC"},
"mark": {"type": "text", "font": "DejaVu Sans Mono", "fontSize": 10, "align": "center", "baseline": "middle", "color": "#000000"},
"encoding": {
"x": {"field": "x", "type": "quantitative", "scale": {"domain": [2142450, 2145051], "nice": false, "zero": false}, "axis": null},
"y": {"field": "y", "type": "quantitative", "scale": {"domain": [-0.5, 1639.5], "reverse": true, "nice": false, "zero": false}, "axis": null},
"text": {"field": "t"}
}
},
{
"data": {"name": "textL"},
"mark": {"type": "text", "font": "DejaVu Sans Mono", "fontSize": 10, "align": "left", "baseline": "middle", "color": "#000000"},
"encoding": {
"x": {"field": "x", "type": "quantitative", "scale": {"domain": [2142450, 2145051], "nice": false, "zero": false}, "axis": null},
"y": {"field": "y", "type": "quantitative", "scale": {"domain": [-0.5, 1639.5], "reverse": true, "nice": false, "zero": false}, "axis": null},
"text": {"field": "t"}
}
},
{
"data": {"name": "textR"},
"mark": {"type": "text", "font": "DejaVu Sans Mono", "fontSize": 10, "align": "right", "baseline": "middle", "color": "#000000"},
"encoding": {
"x": {"field": "x", "type": "quantitative", "scale": {"domain": [2142450, 2145051], "nice": false, "zero": false}, "axis": null},
"y": {"field": "y", "type": "quantitative", "scale": {"domain": [-0.5, 1639.5], "reverse": true, "nice": false, "zero": false}, "axis": null},
"text": {"field": "t"}
}
}
],
"resolve": {"scale": {"color": "independent"}}
}
